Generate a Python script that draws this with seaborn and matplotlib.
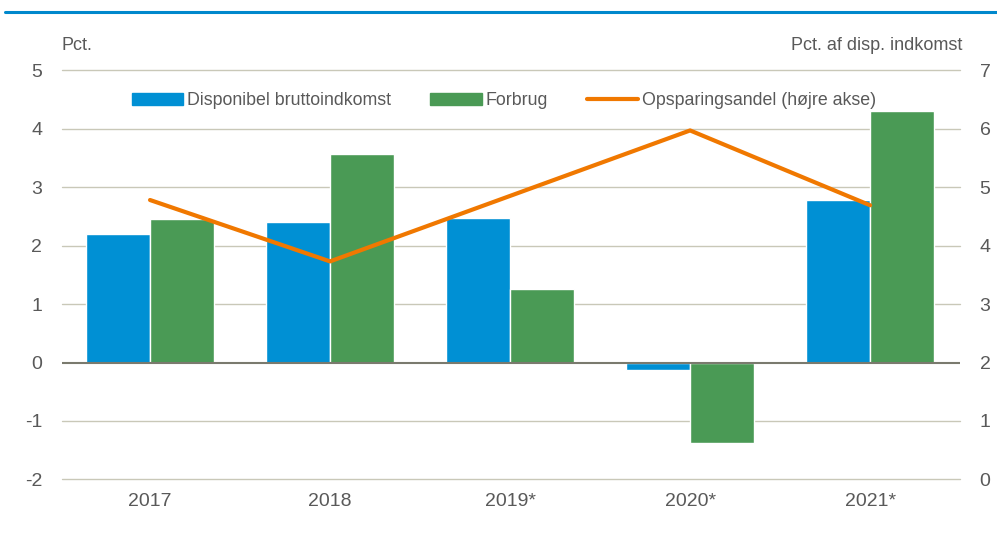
import matplotlib
matplotlib.use("Agg")
import matplotlib.pyplot as plt
import seaborn as sns
import pandas as pd
from matplotlib.patches import Patch
from matplotlib.lines import Line2D

years = ["2017", "2018", "2019*", "2020*", "2021*"]
indkomst = [2.2, 2.4, 2.47, -0.13, 2.78]
forbrug = [2.45, 3.57, 1.25, -1.37, 4.3]
opsparing = [4.78, 3.73, 4.85, 5.97, 4.69]

sns.set_style("white")
plt.rcParams["font.family"] = ["Liberation Sans", "DejaVu Sans"]

blue = "#0090d4"
green = "#4a9a55"
orange = "#f07800"
grey = "#595959"
gridc = "#c9c8b8"

df = pd.DataFrame({"år": years * 2,
                   "serie": ["Disponibel bruttoindkomst"] * 5 + ["Forbrug"] * 5,
                   "værdi": indkomst + forbrug})

fig = plt.figure(figsize=(9.97, 5.53), dpi=100)
ax = fig.add_axes([0.062, 0.133, 0.901, 0.74])

sns.barplot(data=df, x="år", y="værdi", hue="serie", palette=[blue, green],
            saturation=1, width=0.71, edgecolor="white", linewidth=1, ax=ax,
            legend=False)

ax.set_ylim(-2, 5)
ax.set_xlim(-0.49, 4.5)
ax.set_yticks(range(-2, 6))
ax.set_yticklabels([str(v) for v in range(-2, 6)])
for v in range(-2, 6):
    if v != 0:
        ax.axhline(v, color=gridc, lw=1, zorder=0, clip_on=False)
ax.axhline(0, color="#7a7a6e", lw=1.5, zorder=3)
for s in ax.spines.values():
    s.set_visible(False)
ax.set_xlabel("")
ax.set_ylabel("")
ax.tick_params(axis="both", length=0, labelsize=14, colors=grey, pad=14)
ax.tick_params(axis="x", pad=10)

ax2 = ax.twinx()
sns.lineplot(x=list(range(5)), y=opsparing, color=orange, lw=3, ax=ax2)
ax2.set_ylim(0, 7)
ax2.set_yticks(range(0, 8))
for s in ax2.spines.values():
    s.set_visible(False)
ax2.tick_params(axis="y", length=0, labelsize=14, colors=grey, pad=14)
ax2.set_ylabel("")

handles = [Patch(color=blue), Patch(color=green), Line2D([], [], color=orange, lw=3)]
labels = ["Disponibel bruttoindkomst", "Forbrug", "Opsparingsandel (højre akse)"]
ax2.legend(handles, labels, loc="upper center", bbox_to_anchor=(0.492, 0.985), ncol=3,
           frameon=False, fontsize=12.8, labelcolor=grey, handlelength=2.9,
           handleheight=0.6, handletextpad=0.2, columnspacing=2.2)

fig.text(0.062, 0.918, "Pct.", fontsize=13, color=grey, ha="left", va="center")
fig.text(0.965, 0.918, "Pct. af disp. indkomst", fontsize=13, color=grey,
         ha="right", va="center")
fig.add_artist(Line2D([0.005, 1.0], [0.978, 0.978], color="#0088cc", lw=2.2,
                      transform=fig.transFigure))

fig.savefig("out.png", dpi=100)
